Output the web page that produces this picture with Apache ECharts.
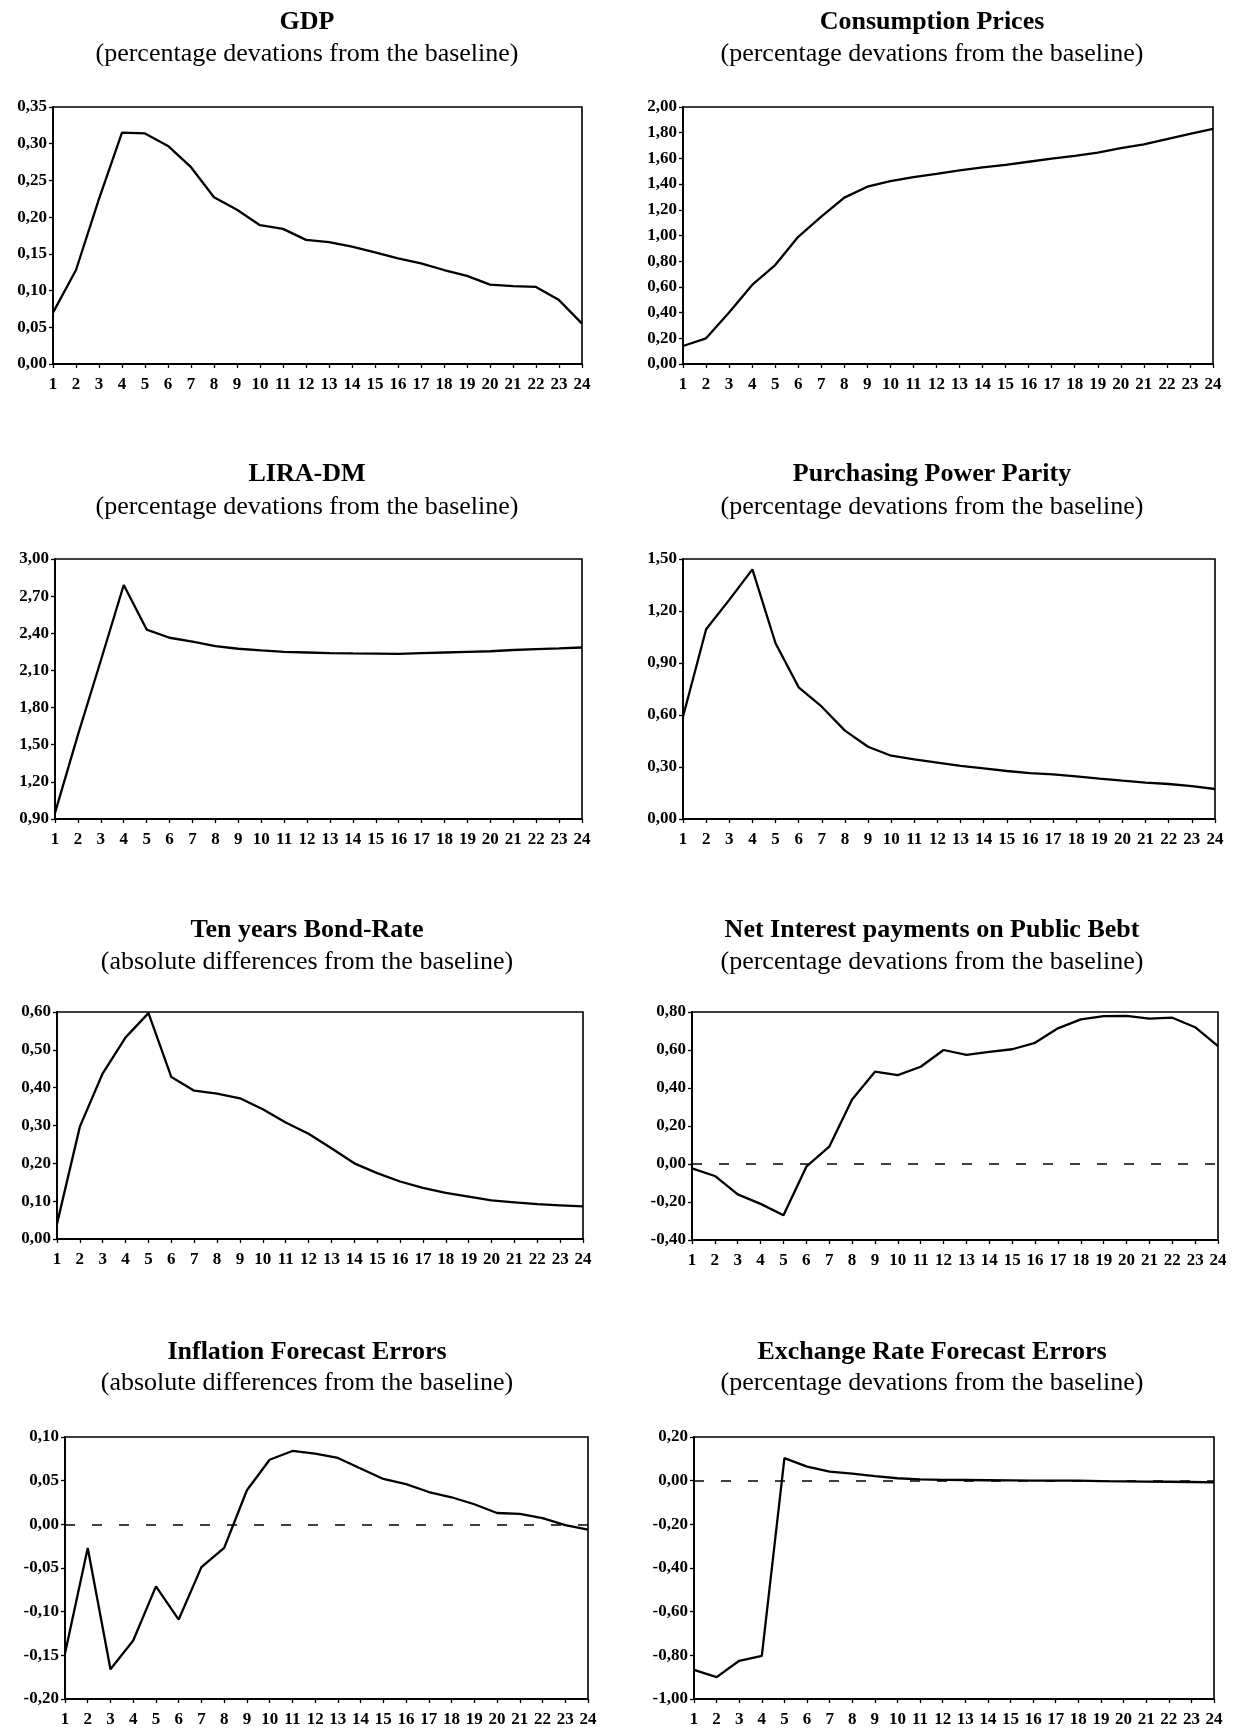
<!DOCTYPE html>
<html>
<head>
<meta charset="utf-8">
<script src="https://cdn.jsdelivr.net/npm/echarts@6/dist/echarts.min.js"></script>
<style>
html,body{margin:0;padding:0;background:#fff;}
#chart{width:1237px;height:1730px;}
</style>
</head>
<body>
<div id="chart"></div>
<script>
// ---- Data ----
const periods = ['1','2','3','4','5','6','7','8','9','10','11','12','13','14','15','16','17','18','19','20','21','22','23','24'];

const gdp = [0.070, 0.128, 0.225, 0.315, 0.314, 0.297, 0.268, 0.227, 0.210, 0.189, 0.184, 0.169, 0.166, 0.160, 0.152, 0.144, 0.137, 0.128, 0.120, 0.108, 0.106, 0.105, 0.087, 0.055];
const consumptionPrices = [0.14, 0.20, 0.40, 0.615, 0.77, 0.99, 1.146, 1.295, 1.38, 1.424, 1.455, 1.479, 1.507, 1.53, 1.55, 1.574, 1.598, 1.62, 1.645, 1.68, 1.71, 1.75, 1.79, 1.83];
const liraDm = [0.95, 1.58, 2.18, 2.79, 2.43, 2.364, 2.332, 2.297, 2.275, 2.262, 2.25, 2.245, 2.24, 2.237, 2.235, 2.233, 2.24, 2.245, 2.25, 2.255, 2.265, 2.272, 2.278, 2.285];
const ppp = [0.59, 1.095, 1.264, 1.44, 1.014, 0.76, 0.648, 0.51, 0.417, 0.365, 0.344, 0.325, 0.306, 0.292, 0.277, 0.265, 0.258, 0.246, 0.233, 0.221, 0.21, 0.202, 0.19, 0.173];
const bondRate = [0.04, 0.297, 0.438, 0.533, 0.597, 0.428, 0.392, 0.384, 0.372, 0.343, 0.308, 0.278, 0.24, 0.20, 0.174, 0.152, 0.135, 0.122, 0.112, 0.102, 0.097, 0.092, 0.089, 0.086];
const netInterest = [-0.023, -0.063, -0.16, -0.21, -0.27, -0.014, 0.091, 0.34, 0.486, 0.468, 0.512, 0.60, 0.574, 0.59, 0.604, 0.638, 0.714, 0.761, 0.778, 0.78, 0.765, 0.77, 0.72, 0.62];
const inflationErrors = [-0.148, -0.027, -0.166, -0.133, -0.071, -0.109, -0.049, -0.027, 0.039, 0.074, 0.084, 0.081, 0.076, 0.064, 0.052, 0.046, 0.037, 0.031, 0.023, 0.013, 0.012, 0.007, -0.001, -0.006];
const exchangeErrors = [-0.867, -0.90, -0.825, -0.803, 0.103, 0.064, 0.041, 0.032, 0.021, 0.011, 0.006, 0.004, 0.003, 0.002, 0.001, 0.0, 0.0, 0.0, -0.002, -0.003, -0.004, -0.005, -0.006, -0.008];

const titles = ['GDP', 'Consumption Prices', 'LIRA-DM', 'Purchasing Power Parity', 'Ten years Bond-Rate', 'Net Interest payments on Public Bebt', 'Inflation Forecast Errors', 'Exchange Rate Forecast Errors'];
const subtitles = ['(percentage devations from the baseline)', '(percentage devations from the baseline)', '(percentage devations from the baseline)', '(percentage devations from the baseline)', '(absolute differences from the baseline)', '(percentage devations from the baseline)', '(absolute differences from the baseline)', '(percentage devations from the baseline)'];

const yMins = [0, 0, 0.9, 0, 0, -0.4, -0.2, -1.0];
const yMaxs = [0.35, 2.0, 3.0, 1.5, 0.6, 0.8, 0.1, 0.2];
const yIntervals = [0.05, 0.2, 0.3, 0.3, 0.1, 0.2, 0.05, 0.2];
const zeroLine = [false, false, false, false, false, true, true, true];

// ---- Layout / style ----
const seriesData = [gdp, consumptionPrices, liraDm, ppp, bondRate, netInterest, inflationErrors, exchangeErrors];
const gridBoxes = [
  {l:53, r:582, t:107, b:364},
  {l:683, r:1213, t:107, b:364},
  {l:55, r:582, t:559, b:819},
  {l:683, r:1215, t:559, b:819},
  {l:57, r:583, t:1012, b:1239},
  {l:692, r:1218, t:1012, b:1240},
  {l:65, r:588, t:1437, b:1699},
  {l:694, r:1214, t:1437, b:1699}
];
const titleY = [[22,54],[22,54],[474,507],[474,507],[930,962],[930,962],[1352,1383],[1352,1383]];
const titleX = [307, 932];

const FONT = '"Liberation Serif","Times New Roman",serif';
const fmt = v => { if (Math.abs(v) < 1e-9) v = 0; return v.toFixed(2).replace('.', ','); };

const grids = [], xAxes = [], yAxes = [], series = [], graphics = [];
for (let i = 0; i < 8; i++) {
  const g = gridBoxes[i];
  grids.push({left:g.l, top:g.t, width:g.r-g.l, height:g.b-g.t, show:true, borderColor:'#000', borderWidth:1.6, backgroundColor:'transparent', containLabel:false});
  xAxes.push({
    type:'category', gridIndex:i, data:periods, boundaryGap:false, position:'bottom',
    axisLine:{onZero:false, lineStyle:{color:'#000', width:1.8}},
    axisTick:{show:true, inside:false, length:4, alignWithLabel:true, lineStyle:{color:'#000', width:1.3}},
    axisLabel:{interval:0, color:'#000', fontFamily:FONT, fontWeight:'bold', fontSize:17, margin:12},
    splitLine:{show:false}
  });
  yAxes.push({
    type:'value', gridIndex:i, min:yMins[i], max:yMaxs[i], interval:yIntervals[i], position:'left',
    axisLine:{show:true, onZero:false, lineStyle:{color:'#000', width:1.8}},
    axisTick:{show:true, inside:false, length:4, lineStyle:{color:'#000', width:1.3}},
    axisLabel:{color:'#000', fontFamily:FONT, fontWeight:'bold', fontSize:17, margin:6, formatter:fmt},
    splitLine:{show:false}
  });
  const s = {
    type:'line', xAxisIndex:i, yAxisIndex:i, data:seriesData[i],
    showSymbol:false, symbol:'none', smooth:false, silent:true,
    lineStyle:{color:'#000', width:2.3}, z:5
  };
  if (zeroLine[i]) {
    s.markLine = {silent:true, symbol:['none','none'], label:{show:false},
      lineStyle:{color:'#000', width:1.6, type:[10,17]}, data:[{yAxis:0}]};
  }
  series.push(s);
  const cx = titleX[i % 2];
  graphics.push({type:'text', x:cx, y:titleY[i][0], style:{text:titles[i], font:'bold 26px ' + FONT, fill:'#000', align:'center', verticalAlign:'middle'}});
  graphics.push({type:'text', x:cx, y:titleY[i][1], style:{text:subtitles[i], font:'26px ' + FONT, fill:'#000', align:'center', verticalAlign:'middle'}});
}

const chart = echarts.init(document.getElementById('chart'), null, {renderer:'canvas'});
chart.setOption({
  animation:false,
  backgroundColor:'#fff',
  grid:grids, xAxis:xAxes, yAxis:yAxes, series:series, graphic:graphics
});
</script>
</body>
</html>
